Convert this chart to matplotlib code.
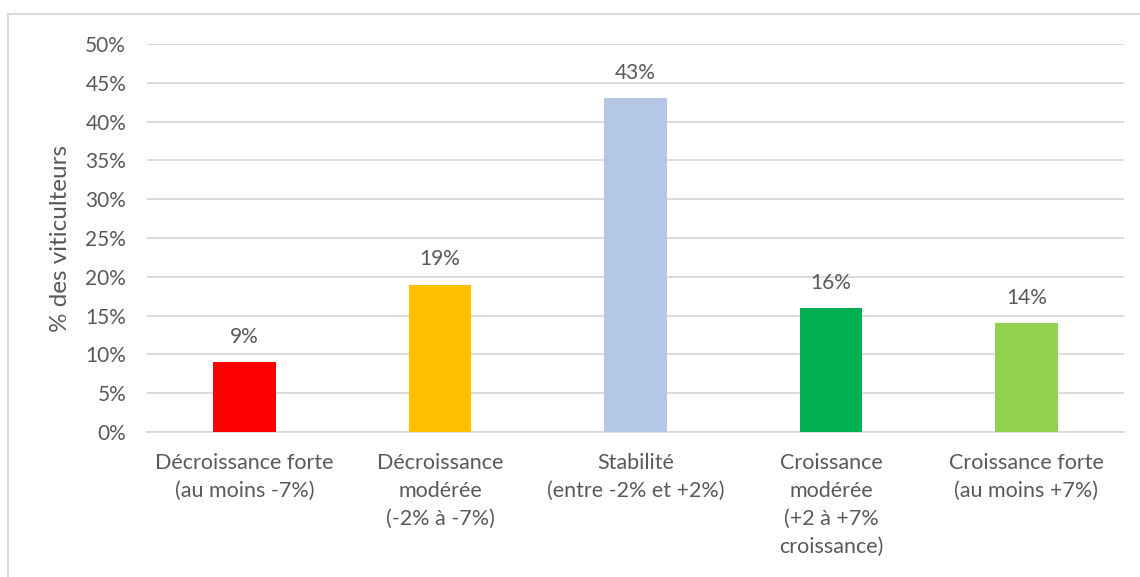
import matplotlib
matplotlib.use("Agg")
import matplotlib.pyplot as plt
from matplotlib.lines import Line2D

categories = [
    "Décroissance forte\n(au moins -7%)",
    "Décroissance\nmodérée\n(-2% à -7%)",
    "Stabilité\n(entre -2% et +2%)",
    "Croissance\nmodérée\n(+2 à +7%\ncroissance)",
    "Croissance forte\n(au moins +7%)",
]
values = [9, 19, 43, 16, 14]
value_labels = ["9%", "19%", "43%", "16%", "14%"]
colors = ["#FF0000", "#FFC000", "#B4C7E7", "#00B050", "#92D050"]
yticks = [0, 5, 10, 15, 20, 25, 30, 35, 40, 45, 50]
ytick_labels = [f"{t}%" for t in yticks]

plt.rcParams["font.family"] = ["Lato", "DejaVu Sans"]
text_color = "#595959"
grid_color = "#D9D9D9"

fig = plt.figure(figsize=(11.4, 5.77), dpi=100)
ax = fig.add_axes([147 / 1140, 1 - 432 / 577, (1124 - 147) / 1140, (432 - 44) / 577])

x = list(range(len(categories)))
bars = ax.bar(x, values, width=0.32, color=colors, zorder=3)
for xi, v, lab in zip(x, values, value_labels):
    ax.annotate(lab, (xi, v), xytext=(0, 11), textcoords="offset points",
                ha="center", va="bottom", fontsize=15, color=text_color)

ax.set_xlim(-0.5, len(categories) - 0.5)
ax.set_ylim(0, 50)
ax.set_yticks(yticks)
ax.set_yticklabels(ytick_labels, fontsize=15, color=text_color)
ax.set_xticks(x)
ax.set_xticklabels(categories, fontsize=15.5, color=text_color, linespacing=1.5, va="top")
ax.tick_params(axis="both", length=0)
ax.tick_params(axis="y", pad=15)
ax.tick_params(axis="x", pad=15)
ax.yaxis.grid(True, color=grid_color, linewidth=1.3, zorder=0)
for s in ["top", "right", "left"]:
    ax.spines[s].set_visible(False)
ax.spines["bottom"].set_color(grid_color)
ax.spines["bottom"].set_linewidth(1.3)
ax.set_ylabel("% des viticulteurs", fontsize=17.5, color=text_color, labelpad=10)

# chart frame remnants (cropped chart area border)
fig.add_artist(Line2D([8 / 1140, 1.0], [1 - 13.5 / 577, 1 - 13.5 / 577],
                      transform=fig.transFigure, color="#D9D9D9", linewidth=1.5))
fig.add_artist(Line2D([8 / 1140, 8 / 1140], [0.0, 1 - 13.5 / 577],
                      transform=fig.transFigure, color="#D9D9D9", linewidth=1.5))

fig.savefig("out.png", dpi=100, facecolor="white")
